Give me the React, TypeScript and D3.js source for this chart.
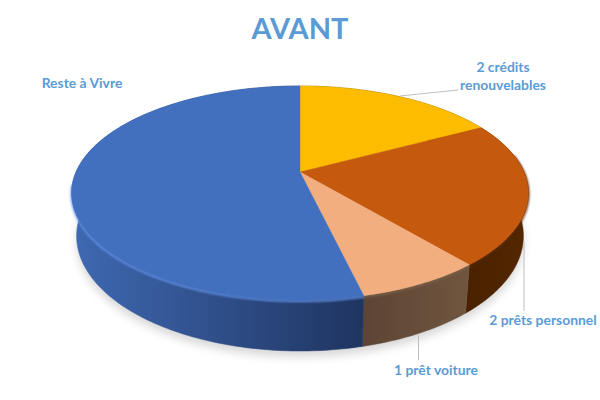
import React from "react";
import * as d3 from "d3";

const categories = ["2 crédits renouvelables", "2 prêts personnel", "1 prêt voiture", "Reste à Vivre"];
const values = [17.2, 21.7, 7.4, 53.7];
const topColors = ["#fdbc00", "#c5590e", "#f3ae80", "#4270bf"];
const rimColors = ["#fdbc00", "#5a2c08", "#7d6049", "#6494ec"];
const wallStart = ["#7a5c00", "#532700", "#70563f", "#3f69b2"];
const wallEnd = ["#7a5c00", "#4a2200", "#5c4535", "#1f3460"];

// perspective disk
const W = 600, H = 400;
const CX = 300, CY = 172, A = 224, B = 102.9, K = -0.196;
const FRONT_START = 1.4, FRONT_END = 4.6;
const project = (angle: number) => {
  const u = Math.sin(angle), v = -Math.cos(angle);
  const d = 1 + K * v;
  return [CX + (A * u) / d, CY + (B * v) / d] as [number, number];
};
const lower = ([x, y]: [number, number]) =>
  [CX + (x - CX) * 0.978, 236 + (y - 193) * 1.075] as [number, number];

const arcPts = (a0: number, a1: number) => {
  const n = Math.max(2, Math.ceil((a1 - a0) * 60));
  return d3.range(n + 1).map((i) => project(a0 + ((a1 - a0) * i) / n));
};
const line = d3.line();

const arcs = d3.pie<number>().sort(null)(values);

const topPath = (a0: number, a1: number) => line([[CX, CY], ...arcPts(a0, a1)])! + "Z";
const wallPath = (a0: number, a1: number) => {
  const pts = arcPts(a0, a1);
  return line([...pts, ...pts.slice().reverse().map(lower)])! + "Z";
};
const rimPath = (a0: number, a1: number) => {
  const s = Math.max(a0, FRONT_START), e = Math.min(a1, FRONT_END);
  return e > s ? line(arcPts(s, e))! : "";
};
const lowerDisk = line(arcPts(0, Math.PI * 2).map(lower))! + "Z";

const labelFont = "Lato, Carlito, Calibri, sans-serif";
const labelColor = "#5b9bd5";
const leaderColor = "#bfbfbf";

export default function App() {
  return (
    <svg width={W} height={H} viewBox={`0 0 ${W} ${H}`} style={{ position: "absolute", left: 0, top: 0, background: "#fff" }}>
      <defs>
        <filter id="shadow" x="-20%" y="-20%" width="140%" height="140%">
          <feGaussianBlur stdDeviation="4" />
        </filter>
        <filter id="soft" x="-20%" y="-20%" width="140%" height="140%">
          <feGaussianBlur stdDeviation="0.8" />
        </filter>
        {arcs.map((a, i) => {
          const xs = arcPts(a.startAngle, a.endAngle).map((p) => p[0]);
          const [lo, hi] = d3.extent(xs) as [number, number];
          return (
            <linearGradient key={i} id={`wall${i}`} gradientUnits="userSpaceOnUse" x1={lo} x2={hi} y1="0" y2="0">
              <stop offset="0" stopColor={i === 3 ? wallStart[i] : wallEnd[i]} />
              <stop offset="1" stopColor={i === 3 ? wallEnd[i] : wallStart[i]} />
            </linearGradient>
          );
        })}
      </defs>
      <g transform="translate(0,6)" opacity="0.28">
        <path d={lowerDisk} fill="#777" filter="url(#shadow)" />
      </g>
      {arcs.map((a, i) => (
        <path key={i} d={wallPath(a.startAngle, a.endAngle)} fill={`url(#wall${i})`} stroke={`url(#wall${i})`} strokeWidth="0.5" />
      ))}
      <g transform="translate(0,1)">
        {arcs.map((a, i) => (
          <path key={i} d={rimPath(a.startAngle, a.endAngle)} fill="none" stroke={rimColors[i]} strokeWidth="2" filter="url(#soft)" />
        ))}
      </g>
      {arcs.map((a, i) => (
        <path key={i} d={topPath(a.startAngle, a.endAngle)} fill={topColors[i]} stroke={topColors[i]} strokeWidth="0.4" />
      ))}
      <g fill="none" stroke={leaderColor} strokeWidth="1">
        <polyline points="400,96 458,90" />
        <polyline points="524,241 524,311" />
        <polyline points="418.5,335 418.5,360" />
      </g>
      <g fontFamily={labelFont} fontWeight="700" fill={labelColor}>
        <text x="300" y="39" textAnchor="middle" fontSize="29">AVANT</text>
        <g fontSize="13.9">
          <text x="82" y="88" textAnchor="middle">{categories[3]}</text>
          <text x="503" y="72" textAnchor="middle">2 crédits</text>
          <text x="503" y="90" textAnchor="middle">renouvelables</text>
          <text x="543" y="325" textAnchor="middle">{categories[1]}</text>
          <text x="436" y="375" textAnchor="middle">{categories[2]}</text>
        </g>
      </g>
    </svg>
  );
}
